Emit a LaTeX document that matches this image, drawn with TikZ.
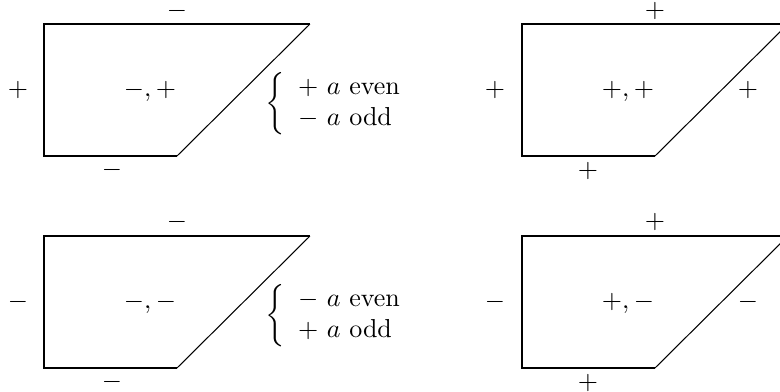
\documentclass[tikz,border=0pt]{standalone}
\usepackage{amsmath}
\begin{document}
\begin{tikzpicture}[x=0.3846pt,y=-0.3846pt,
  edge/.style={line width=1pt},
  diag/.style={line width=0.4pt},
  lbl/.style={inner sep=0pt},
  toplbl/.style={inner sep=0pt,anchor=base},
  casesnode/.style={inner sep=0pt,anchor=base west}]
\useasboundingbox (0,0) rectangle (780,392);
\clip (0,0) rectangle (780,392);

% ---- top left
\coordinate (A-tl) at (44,24);
\coordinate (A-bl) at (44,156);
\coordinate (A-br) at (177,156);
\coordinate (A-tr) at (310,24);
\draw[edge] (A-br) -- (A-bl) -- (A-tl) -- (A-tr);
\draw[diag] (A-tr) -- (A-br);
\node[toplbl] (A-top) at (177,17) {$\smash{-}$};
\node[lbl] (A-left) at (18,90) {$+$};
\node[lbl,anchor=base] (A-mid) at (150,96.5) {$-,+$};
\node[lbl] (A-bot) at (112,170) {$-$};
\node[casesnode] (A-cases) at (265,110) {$\left\{\begin{array}{l} +\ a \text{ even}\\ -\ a\text{ odd}\end{array}\right.$};

% ---- top right
\coordinate (B-tl) at (522,24);
\coordinate (B-bl) at (522,156);
\coordinate (B-br) at (655,156);
\coordinate (B-tr) at (788,24);
\draw[edge] (B-br) -- (B-bl) -- (B-tl) -- (B-tr);
\draw[diag] (B-tr) -- (B-br);
\node[lbl] (B-top) at (655,11) {$+$};
\node[lbl] (B-left) at (495,90) {$+$};
\node[lbl,anchor=base] (B-mid) at (628,96.5) {$+,+$};
\node[lbl] (B-diag) at (748,90) {$+$};
\node[lbl] (B-bot) at (588,171) {$+$};

% ---- bottom left
\coordinate (C-tl) at (44,236);
\coordinate (C-bl) at (44,368);
\coordinate (C-br) at (177,368);
\coordinate (C-tr) at (310,236);
\draw[edge] (C-br) -- (C-bl) -- (C-tl) -- (C-tr);
\draw[diag] (C-tr) -- (C-br);
\node[lbl] (C-top) at (177,222) {$-$};
\node[lbl] (C-left) at (18,302) {$-$};
\node[lbl,anchor=base] (C-mid) at (150,308.5) {$-,-$};
\node[lbl] (C-bot) at (112,382) {$-$};
\node[casesnode] (C-cases) at (265,322) {$\left\{\begin{array}{l} -\ a \text{ even}\\ +\ a\text{ odd}\end{array}\right.$};

% ---- bottom right
\coordinate (D-tl) at (522,236);
\coordinate (D-bl) at (522,368);
\coordinate (D-br) at (655,368);
\coordinate (D-tr) at (788,236);
\draw[edge] (D-br) -- (D-bl) -- (D-tl) -- (D-tr);
\draw[diag] (D-tr) -- (D-br);
\node[lbl] (D-top) at (655,222) {$+$};
\node[lbl] (D-left) at (495,302) {$-$};
\node[lbl,anchor=base] (D-mid) at (628,308.5) {$+,-$};
\node[lbl] (D-diag) at (748,302) {$-$};
\node[lbl] (D-bot) at (588,383) {$+$};
\end{tikzpicture}
\end{document}
